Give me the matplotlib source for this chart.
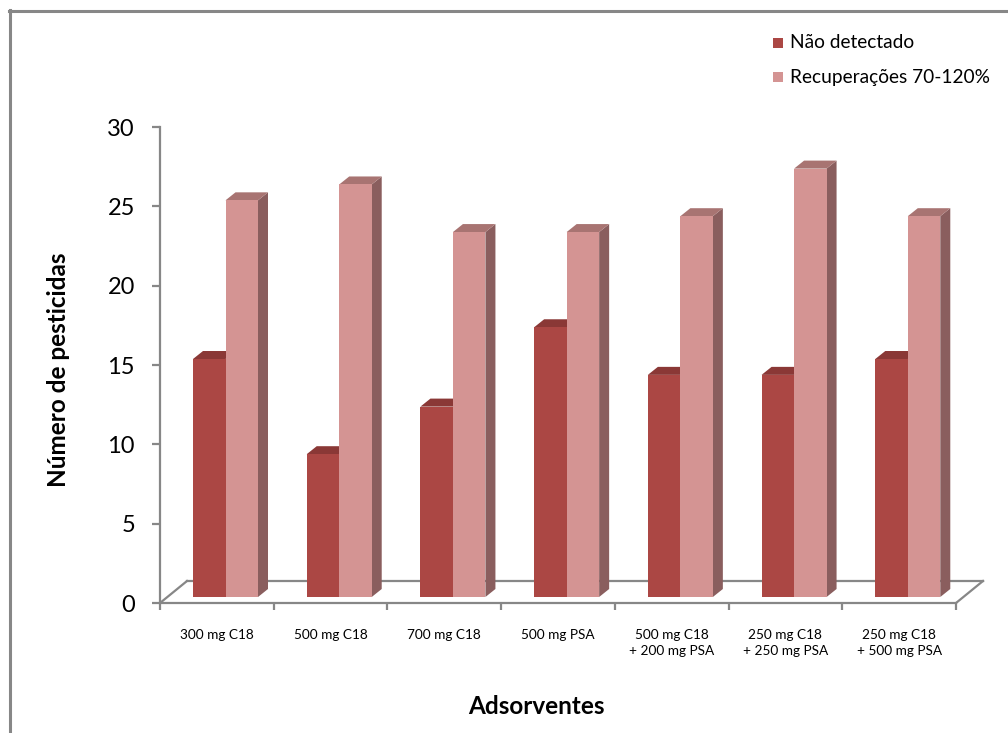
import matplotlib.pyplot as plt
from matplotlib.patches import Polygon, Rectangle
from matplotlib.lines import Line2D

plt.rcParams['font.family'] = ['Lato', 'DejaVu Sans']

categorias = ["300 mg C18", "500 mg C18", "700 mg C18", "500 mg PSA",
              "500 mg C18\n+ 200 mg PSA", "250 mg C18\n+ 250 mg PSA",
              "250 mg C18\n+ 500 mg PSA"]
nao_detectado = [15, 9, 12, 17, 14, 14, 15]
recuperacoes = [25, 26, 23, 23, 24, 27, 24]
series_nomes = ["Não detectado", "Recuperações 70-120%"]

# face colours: front, top, side
cores = [("#AB4744", "#8A3836", "#7A3230"),
         ("#D49493", "#A87472", "#8A5E5E")]
eixo_cor = "#878787"

W, H = 1008, 733
fig = plt.figure(figsize=(W / 100, H / 100), dpi=100)
ax_l, ax_r, ax_t, ax_b = 160, 956, 127, 603
ax = fig.add_axes([ax_l / W, (H - ax_b) / H, (ax_r - ax_l) / W, (ax_b - ax_t) / H])
n = len(categorias)
ax.set_xlim(0, n)
ax.set_ylim(0, 30)

# pixel -> data conversion for the pseudo-3D offsets
px_x = n / (ax_r - ax_l)
px_y = 30 / (ax_b - ax_t)

# floor of the 3D plot
fdx, fdy = 27 * px_x, 22 * px_y
for xs, ys in [([0, fdx], [0, fdy]), ([fdx, n + fdx], [fdy, fdy]), ([n, n + fdx], [0, fdy])]:
    ax.add_line(Line2D(xs, ys, color=eixo_cor, lw=1.6, clip_on=False, zorder=1))

# bars sit partway into the floor depth
base = 6 * px_y
bdx, bdy = 10 * px_x, 8 * px_y
largura = 32.5 * px_x
inicio = 33 * px_x


def barra3d(x0, v, cor):
    frente, topo, lado = cor
    x1 = x0 + largura
    y0, y1 = base, base + v
    ax.add_patch(Polygon([(x1, y0), (x1 + bdx, y0 + bdy), (x1 + bdx, y1 + bdy), (x1, y1)],
                         closed=True, fc=lado, ec="none", clip_on=False, zorder=2))
    ax.add_patch(Polygon([(x0, y1), (x1, y1), (x1 + bdx, y1 + bdy), (x0 + bdx, y1 + bdy)],
                         closed=True, fc=topo, ec="none", clip_on=False, zorder=2))
    ax.add_patch(Rectangle((x0, y0), largura, v, fc=frente, ec="none", clip_on=False, zorder=2))


for i in range(n):
    for s, valores in enumerate([nao_detectado, recuperacoes]):
        barra3d(i + inicio + s * largura, valores[i], cores[s])

# axes styling
for lado in ["top", "right"]:
    ax.spines[lado].set_visible(False)
ax.spines["left"].set_color(eixo_cor)
ax.spines["left"].set_linewidth(1.6)
ax.spines["bottom"].set_color(eixo_cor)
ax.spines["bottom"].set_linewidth(1.6)
ax.spines["bottom"].set_zorder(1)

ax.set_yticks(range(0, 31, 5))
ax.tick_params(axis="y", length=6, width=1.6, color=eixo_cor, pad=12, labelsize=17)
ax.set_xticks(range(n + 1))
ax.set_xticklabels([])
ax.tick_params(axis="x", which="major", length=5, width=1.6, color=eixo_cor)
ax.set_xticks([i + 0.5 for i in range(n)], minor=True)
ax.set_xticklabels(categorias, minor=True, fontsize=9.8, linespacing=1.4, va="top")
ax.tick_params(axis="x", which="minor", length=0, pad=19)

ax.set_ylabel("Número de pesticidas", fontsize=17.5, fontweight="bold")
ax.yaxis.set_label_coords(-90 / (ax_r - ax_l), 0.49)
ax.set_xlabel("Adsorventes", fontsize=17.5, fontweight="bold")
ax.xaxis.set_label_coords((536 - ax_l) / (ax_r - ax_l), -(695 - ax_b) / (ax_b - ax_t))

# legend
for s, nome in enumerate(series_nomes):
    yy = 43 + s * 34
    fig.add_artist(Rectangle((773 / W, 1 - (yy + 5) / H), 10 / W, 10 / H,
                             transform=fig.transFigure, fc=cores[s][0], ec="none"))
    fig.text(790 / W, 1 - yy / H, nome, fontsize=13.8, va="center", ha="left")

# chart area border
fig.add_artist(Line2D([9.5 / W, 9.5 / W], [-0.01, 1 - 10 / H], color=eixo_cor, lw=2.2,
                      transform=fig.transFigure))
fig.add_artist(Line2D([8.5 / W, 1.01], [1 - 11 / H, 1 - 11 / H], color=eixo_cor, lw=2.2,
                      transform=fig.transFigure))

fig.savefig("out.png", dpi=100)
